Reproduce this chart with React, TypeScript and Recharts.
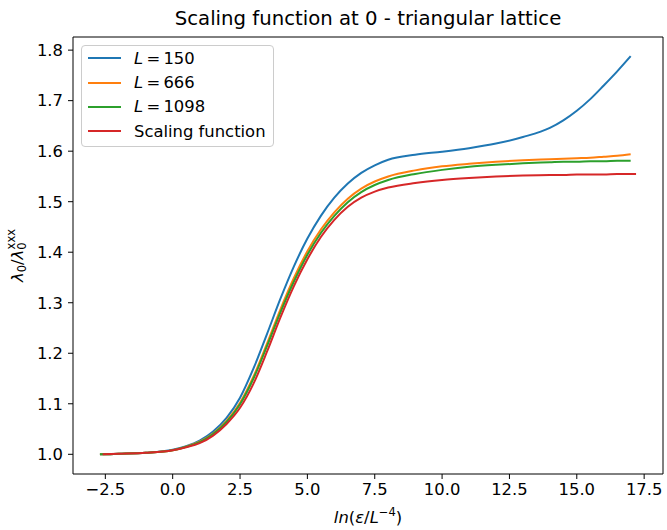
import React from "react";
import { LineChart, Line, XAxis, YAxis, Legend, ReferenceLine } from "recharts";

// x = ln(eps / L^-4)
const xs = [-2.7, -2.6, -2, -1, 0, 0.5, 1, 1.5, 2, 2.5, 3, 3.5, 4, 4.5, 5, 5.5, 6, 6.5, 7, 7.5, 8, 9, 10, 11, 12, 13, 14, 14.5, 15, 15.5, 16, 16.5, 17, 17.2];

const l150 = [1.0, 1.0, 1.001, 1.003, 1.009, 1.016, 1.027, 1.045, 1.072, 1.112, 1.17, 1.238, 1.308, 1.372, 1.427, 1.472, 1.508, 1.536, 1.557, 1.572, 1.583, 1.593, 1.599, 1.606, 1.615, 1.628, 1.646, 1.661, 1.68, 1.703, 1.73, 1.758, 1.788, null];
const l666 = [1.0, 1.0, 1.001, 1.003, 1.008, 1.015, 1.025, 1.041, 1.066, 1.102, 1.154, 1.219, 1.287, 1.349, 1.402, 1.445, 1.479, 1.506, 1.526, 1.54, 1.55, 1.562, 1.57, 1.575, 1.579, 1.582, 1.584, 1.585, 1.586, 1.587, 1.589, 1.591, 1.594, null];
const l1098 = [1.0, 1.0, 1.001, 1.003, 1.008, 1.015, 1.024, 1.04, 1.064, 1.099, 1.15, 1.214, 1.281, 1.342, 1.395, 1.438, 1.472, 1.499, 1.519, 1.533, 1.543, 1.555, 1.563, 1.569, 1.573, 1.576, 1.578, 1.579, 1.579, 1.58, 1.58, 1.581, 1.581, null];
const scaling = [null, 1.0, 1.001, 1.003, 1.008, 1.014, 1.022, 1.037, 1.06, 1.092, 1.14, 1.203, 1.271, 1.333, 1.386, 1.43, 1.464, 1.49, 1.508, 1.52, 1.528, 1.537, 1.543, 1.547, 1.55, 1.552, 1.553, 1.553, 1.554, 1.554, 1.554, 1.555, 1.555, 1.555];

const xTicks = [-2.5, 0, 2.5, 5, 7.5, 10, 12.5, 15, 17.5];
const yTicks = [1.0, 1.1, 1.2, 1.3, 1.4, 1.5, 1.6, 1.7, 1.8];

const series = [
  { key: "l150", label: "150", color: "#1f77b4" },
  { key: "l666", label: "666", color: "#ff7f0e" },
  { key: "l1098", label: "1098", color: "#2ca02c" },
  { key: "scaling", label: "Scaling function", color: "#d62728" },
];

const data = xs.map((x, i) => ({ x, l150: l150[i], l666: l666[i], l1098: l1098[i], scaling: scaling[i] }));

const FONT = "'DejaVu Sans', sans-serif";
const X_MIN = -3.7;
const X_MAX = 18.2;
const Y_MIN = 0.961;
const Y_MAX = 1.826;

const fmtX = (v: number) => v.toFixed(1).replace("-", "\u2212");

function LegendBox() {
  return (
    <div
      style={{
        background: "rgba(255,255,255,0.8)",
        border: "1px solid #cccccc",
        borderRadius: 4,
        width: 191,
        height: 100,
        boxSizing: "content-box",
        fontFamily: FONT,
        fontSize: 16.4,
        color: "#000",
        paddingTop: 0,
      }}
    >
      {series.map((s) => (
        <div key={s.key} style={{ display: "flex", alignItems: "center", height: 24.4, paddingLeft: 6 }}>
          <svg width={33} height={4} style={{ marginRight: 13 }}>
            <line x1={0} y1={2} x2={33} y2={2} stroke={s.color} strokeWidth={2} />
          </svg>
          {s.key === "scaling" ? (
            <span>{s.label}</span>
          ) : (
            <span>
              <i>L</i>
              {"\u2009=\u2009"}
              {s.label}
            </span>
          )}
        </div>
      ))}
    </div>
  );
}

export default function App() {
  return (
    <div style={{ position: "absolute", left: 0, top: 0, width: 667, height: 530, background: "#fff" }}>
      <div
        style={{
          position: "absolute",
          left: 73,
          width: 590,
          top: 7,
          textAlign: "center",
          fontFamily: FONT,
          fontSize: 19.7,
          lineHeight: "24px",
          color: "#000",
        }}
      >
        Scaling function at 0 - triangular lattice
      </div>
      <LineChart width={667} height={530} data={data} margin={{ top: 37, right: 4, bottom: 0, left: 0 }}>
        <XAxis
          dataKey="x"
          type="number"
          domain={[X_MIN, X_MAX]}
          ticks={xTicks}
          allowDataOverflow
          tickFormatter={fmtX}
          height={56}
          stroke="#000"
          tickSize={5}
          tickMargin={4}
          tick={{ fill: "#000", fontSize: 16.4, fontFamily: FONT }}
          label={{
            content: () => (
              <text x={368} y={523} textAnchor="middle" fontFamily={FONT} fontSize={16.4} fill="#000">
                <tspan fontStyle="italic">ln</tspan>
                <tspan>(</tspan>
                <tspan fontStyle="italic">ε</tspan>
                <tspan>/</tspan>
                <tspan fontStyle="italic">L</tspan>
                <tspan fontSize={11.5} dy={-7}>{"\u22124"}</tspan>
                <tspan dy={7}>)</tspan>
              </text>
            ),
          }}
        />
        <YAxis
          type="number"
          domain={[Y_MIN, Y_MAX]}
          ticks={yTicks}
          allowDataOverflow
          tickFormatter={(v: number) => v.toFixed(1)}
          width={73}
          stroke="#000"
          tickSize={5}
          tickMargin={5}
          tick={{ fill: "#000", fontSize: 16.4, fontFamily: FONT }}
          label={{
            content: () => (
              <text x={0} y={0} transform="translate(23,255.5) rotate(-90)" textAnchor="middle" fontFamily={FONT} fontSize={16.4} fill="#000">
                <tspan fontStyle="italic">λ</tspan>
                <tspan fontSize={11.5} dy={3}>0</tspan>
                <tspan dy={-3}>/</tspan>
                <tspan fontStyle="italic">λ</tspan>
                <tspan fontSize={11.5} dy={3}>0</tspan>
                <tspan fontSize={11.5} dx={-7} dy={-11}>xxx</tspan>
              </text>
            ),
          }}
        />
        <ReferenceLine y={Y_MAX} stroke="#000" strokeWidth={1} ifOverflow="extendDomain" />
        <ReferenceLine x={X_MAX} stroke="#000" strokeWidth={1} ifOverflow="extendDomain" />
        {series.map((s) => (
          <Line
            key={s.key}
            dataKey={s.key}
            type="monotone"
            stroke={s.color}
            strokeWidth={2}
            dot={false}
            activeDot={false}
            isAnimationActive={false}
          />
        ))}
        <Legend
          layout="vertical"
          align="center"
          verticalAlign="middle"
          content={() => <LegendBox />}
          wrapperStyle={{ left: 81, top: 45, width: "auto", height: "auto" }}
        />
      </LineChart>
    </div>
  );
}
